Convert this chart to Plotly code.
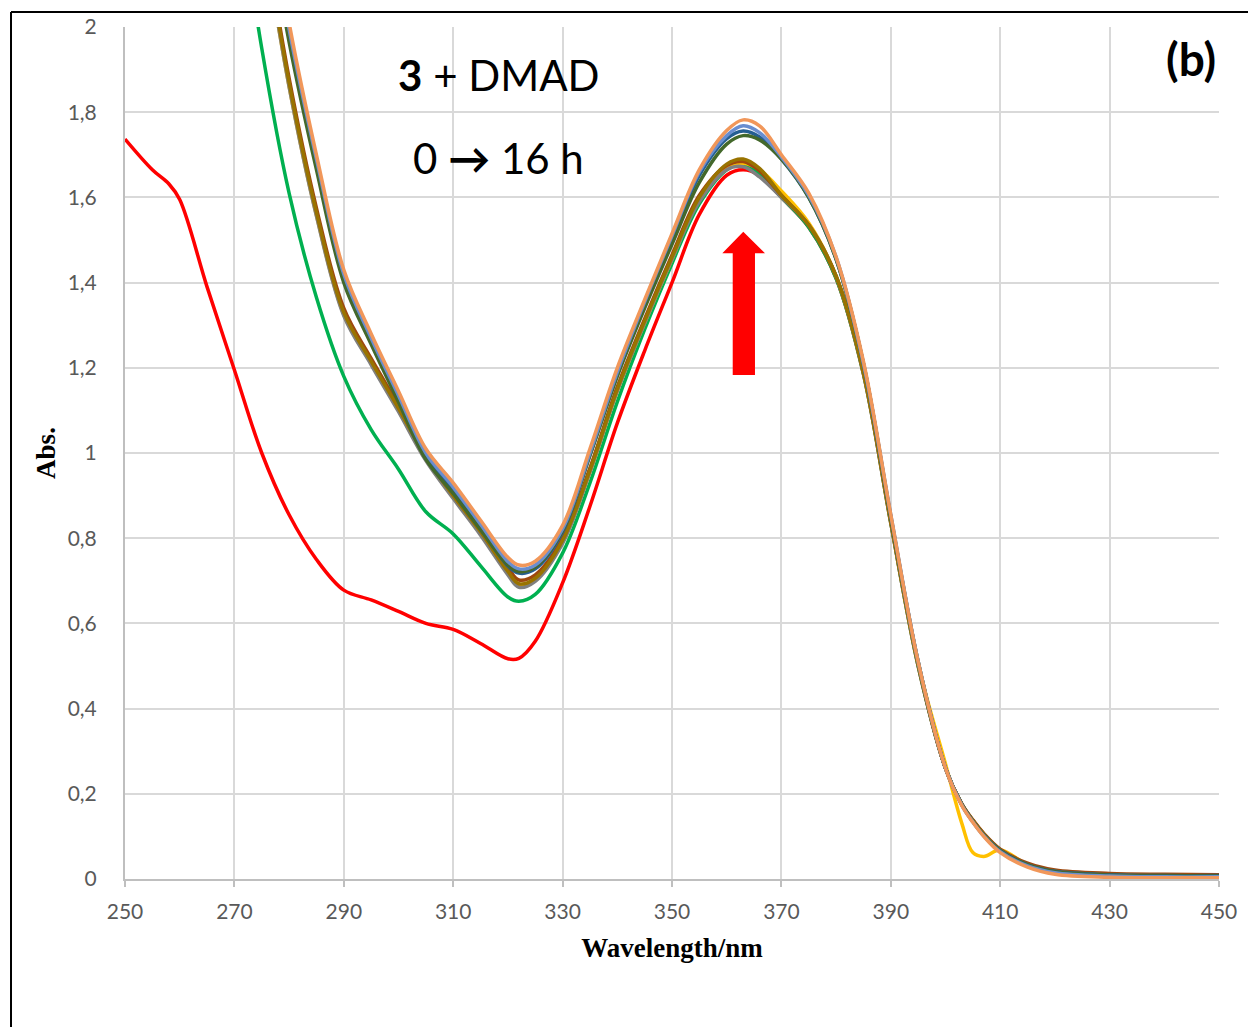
import plotly.graph_objects as go

# Wavelength grids (nm)
wl_full = [250, 255, 258, 260, 265, 270, 275, 280, 285, 290, 295, 300, 305, 310, 315,
           320, 322, 325, 330, 335, 340, 345, 350, 355, 360, 363, 366, 370, 375, 380,
           385, 390, 395, 400, 403, 405, 407, 410, 415, 420, 430, 440, 450]
wl_270 = wl_full[5:]

# Absorbance spectra, 3 + DMAD, recorded from 0 h to 16 h
abs_0h = [1.737, 1.665, 1.632, 1.595, 1.39, 1.195, 1.0, 0.855, 0.75, 0.678, 0.655, 0.628,
          0.60, 0.586, 0.553, 0.517, 0.518, 0.558, 0.695, 0.875, 1.07, 1.24, 1.40, 1.56,
          1.652, 1.665, 1.652, 1.60, 1.53, 1.41, 1.185, 0.835, 0.50, 0.26, 0.175, 0.137,
          0.105, 0.068, 0.034, 0.018, 0.010, 0.008, 0.007]
abs_green = [2.38, 1.95, 1.61, 1.365, 1.18, 1.055, 0.962, 0.862, 0.81, 0.735, 0.662, 0.652,
             0.668, 0.765, 0.93, 1.12, 1.29, 1.445, 1.585, 1.665, 1.678, 1.655, 1.60, 1.53,
             1.41, 1.185, 0.835, 0.50, 0.26, 0.175, 0.137, 0.105, 0.067, 0.032, 0.016, 0.008,
             0.006, 0.005]
abs_yellow = [2.64, 2.24, 1.86, 1.558, 1.325, 1.21, 1.10, 0.985, 0.896, 0.81, 0.718, 0.689,
              0.702, 0.79, 0.955, 1.145, 1.305, 1.455, 1.595, 1.67, 1.68, 1.665, 1.615, 1.54,
              1.415, 1.19, 0.84, 0.505, 0.27, 0.13, 0.062, 0.053, 0.068, 0.034, 0.018, 0.010,
              0.008, 0.007]
abs_gray = [2.64, 2.24, 1.86, 1.556, 1.322, 1.207, 1.097, 0.982, 0.893, 0.807, 0.714, 0.685,
            0.699, 0.788, 0.955, 1.145, 1.305, 1.455, 1.59, 1.665, 1.672, 1.648, 1.60, 1.535,
            1.415, 1.19, 0.84, 0.505, 0.26, 0.175, 0.137, 0.105, 0.068, 0.034, 0.018, 0.010,
            0.008, 0.007]
abs_brown = [2.66, 2.26, 1.88, 1.575, 1.34, 1.222, 1.112, 0.998, 0.908, 0.822, 0.73, 0.702,
             0.714, 0.80, 0.965, 1.155, 1.315, 1.465, 1.605, 1.675, 1.684, 1.662, 1.605, 1.535,
             1.415, 1.19, 0.84, 0.505, 0.26, 0.176, 0.139, 0.107, 0.07, 0.037, 0.021, 0.013,
             0.011, 0.010]
abs_olive = [2.65, 2.25, 1.87, 1.565, 1.33, 1.215, 1.105, 0.99, 0.90, 0.815, 0.722, 0.693,
             0.706, 0.795, 0.96, 1.15, 1.31, 1.46, 1.60, 1.678, 1.69, 1.668, 1.605, 1.535,
             1.415, 1.19, 0.84, 0.505, 0.26, 0.175, 0.137, 0.105, 0.068, 0.034, 0.018, 0.010,
             0.008, 0.007]
abs_darkblue = [2.91, 2.36, 1.98, 1.675, 1.41, 1.26, 1.125, 0.99, 0.91, 0.823, 0.735, 0.718,
                0.728, 0.815, 0.995, 1.185, 1.35, 1.505, 1.652, 1.738, 1.756, 1.742, 1.69, 1.60,
                1.455, 1.21, 0.85, 0.51, 0.26, 0.174, 0.135, 0.103, 0.067, 0.034, 0.018, 0.010,
                0.008, 0.008]
abs_darkgreen = [2.89, 2.34, 1.965, 1.665, 1.40, 1.255, 1.12, 0.985, 0.905, 0.82, 0.737, 0.722,
                 0.732, 0.818, 0.995, 1.18, 1.34, 1.49, 1.635, 1.725, 1.745, 1.735, 1.69, 1.60,
                 1.455, 1.21, 0.85, 0.51, 0.26, 0.174, 0.135, 0.102, 0.066, 0.033, 0.017, 0.009,
                 0.007, 0.007]
abs_lightblue = [2.93, 2.38, 1.995, 1.69, 1.42, 1.27, 1.135, 1.0, 0.92, 0.833, 0.745, 0.728,
                 0.737, 0.822, 1.0, 1.19, 1.355, 1.51, 1.66, 1.745, 1.768, 1.752, 1.695, 1.605,
                 1.46, 1.21, 0.855, 0.51, 0.26, 0.173, 0.134, 0.101, 0.064, 0.031, 0.015, 0.007,
                 0.005, 0.005]
abs_16h = [2.95, 2.40, 2.01, 1.70, 1.43, 1.28, 1.145, 1.01, 0.93, 0.842, 0.755, 0.737,
           0.746, 0.83, 1.01, 1.20, 1.36, 1.515, 1.665, 1.757, 1.782, 1.768, 1.70, 1.61,
           1.46, 1.215, 0.855, 0.51, 0.26, 0.172, 0.133, 0.10, 0.062, 0.028, 0.011, 0.004,
           0.003, 0.003]

series = [
    ("0 h", wl_full, abs_0h, "#FF0000"),
    ("scan 2", wl_270, abs_green, "#00B050"),
    ("scan 3", wl_270, abs_yellow, "#FFC000"),
    ("scan 4", wl_270, abs_gray, "#7F7F7F"),
    ("scan 5", wl_270, abs_brown, "#9E480E"),
    ("scan 6", wl_270, abs_olive, "#997300"),
    ("scan 7", wl_270, abs_darkblue, "#255E91"),
    ("scan 8", wl_270, abs_darkgreen, "#43682B"),
    ("scan 9", wl_270, abs_lightblue, "#698ED0"),
    ("16 h", wl_270, abs_16h, "#F1975A"),
]

x_ticks = [250, 270, 290, 310, 330, 350, 370, 390, 410, 430, 450]
y_ticks = [0, 0.2, 0.4, 0.6, 0.8, 1.0, 1.2, 1.4, 1.6, 1.8, 2.0]
y_tick_labels = ["0", "0,2", "0,4", "0,6", "0,8", "1", "1,2", "1,4", "1,6", "1,8", "2"]

fig = go.Figure()
for name, wl, vals, color in series:
    fig.add_trace(go.Scatter(
        x=wl, y=vals, mode="lines", name=name,
        line=dict(color=color, width=3.5, shape="spline", smoothing=1.0),
        hoverinfo="skip",
    ))

tick_font = dict(family="Lato", size=21, color="#595959")
title_font = dict(family="Liberation Serif", size=27, color="#000000")

fig.update_xaxes(
    range=[250, 450], tickvals=x_ticks, ticktext=[str(v) for v in x_ticks],
    showgrid=True, gridcolor="#D9D9D9", gridwidth=2,
    showline=True, linecolor="#BFBFBF", linewidth=2,
    ticks="outside", ticklen=6, tickcolor="#BFBFBF", tickwidth=2,
    tickfont=tick_font, ticklabelstandoff=7, zeroline=False,
    title=dict(text="<b>Wavelength/nm</b>", font=title_font, standoff=16),
)
fig.update_yaxes(
    range=[0, 2], tickvals=y_ticks, ticktext=y_tick_labels,
    showgrid=True, gridcolor="#D9D9D9", gridwidth=2,
    showline=True, linecolor="#BFBFBF", linewidth=2,
    ticks="", tickfont=tick_font, ticklabelstandoff=22, zeroline=False,
    title=dict(text="<b>Abs.</b>", font=title_font, standoff=4),
)

# Block arrow marking the rising band near 363 nm (data coordinates)
arrow_path = ("M 361.1,1.183 L 361.1,1.469 L 359.2,1.469 L 363.03,1.5195 "
              "L 367.0,1.469 L 365.17,1.469 L 365.17,1.183 Z")

fig.update_layout(
    width=1248, height=1027,
    margin=dict(l=125, r=29, t=27, b=148),
    paper_bgcolor="white", plot_bgcolor="white",
    showlegend=False,
    shapes=[
        dict(type="path", path=arrow_path, xref="x", yref="y",
             fillcolor="#FF0000", line=dict(width=0), layer="above"),
        # outer frame (left and top edges)
        dict(type="line", xref="paper", yref="paper", x0=-0.1042, x1=-0.1042,
             y0=-0.2, y1=1.0176, line=dict(color="black", width=2)),
        dict(type="line", xref="paper", yref="paper", x0=-0.1042, x1=1.05,
             y0=1.0176, y1=1.0176, line=dict(color="black", width=2)),
    ],
    annotations=[
        dict(text="<b>3</b> + DMAD", xref="paper", yref="paper", x=0.342, y=0.9437,
             xanchor="center", yanchor="middle", showarrow=False,
             font=dict(family="Lato", size=42, color="black")),
        dict(text="0 <b>\u2192</b> 16 h", xref="paper", yref="paper", x=0.341, y=0.8463,
             xanchor="center", yanchor="middle", showarrow=False,
             font=dict(family="Lato", size=42, color="black")),
        dict(text="<b>(b)</b>", xref="paper", yref="paper", x=0.999, y=0.963,
             xanchor="right", yanchor="middle", showarrow=False,
             font=dict(family="Lato", size=46, color="black")),
    ],
)

fig.write_html("out.html")
